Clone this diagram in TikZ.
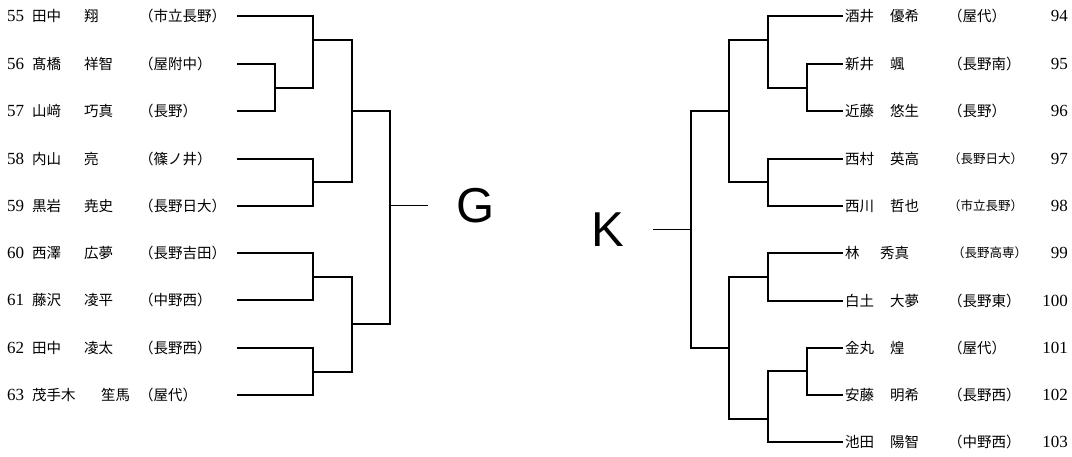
\documentclass[tikz,border=0pt]{standalone}
\usepackage{fontspec}
\setmainfont{Liberation Serif}
\newfontfamily\jp{Noto Sans CJK JP}
\newfontfamily\groupfont{Liberation Sans}
\tikzset{
  jtext/.style={anchor=west, inner sep=0pt, font=\jp\fontsize{14.5}{16}\selectfont},
  numtext/.style={inner sep=0pt, font=\fontsize{17}{18}\selectfont},
  bline/.style={line width=1.6pt},
}

\begin{document}
\begin{tikzpicture}[x=1pt, y=-1pt]
\useasboundingbox (0,0) rectangle (1072,457);
% left block
\foreach \n/\y/\sur/\giv/\gx/\sch in {55/16/田中/翔/84/市立長野, 56/64/髙橋/祥智/84/屋附中,
  57/111/山﨑/巧真/84/長野, 58/159/内山/亮/84/篠ノ井, 59/206/黒岩/尭史/84/長野日大,
  60/253/西澤/広夢/84/長野吉田, 61/300/藤沢/凌平/84/中野西, 62/348/田中/凌太/84/長野西,
  63/395/茂手木/笙馬/101/屋代}
{
  \node[numtext, anchor=west] (n\n) at (7,\y) {\n};
  \node[jtext] (s\n) at (32,\y) {\sur};
  \node[jtext] (g\n) at (\gx,\y) {\giv};
  \node[jtext] (c\n) at (139,\y) {（\sch）};
  \coordinate (L\n) at (237,\y);
}
% right block
\foreach \n/\y/\sur/\giv/\gx/\sch/\cx/\sz in {94/16/酒井/優希/890/屋代/948/14.5,
  95/64/新井/颯/890/長野南/948/14.5, 96/111/近藤/悠生/890/長野/948/14.5,
  97/159/西村/英高/890/長野日大/948/12.5, 98/206/西川/哲也/890/市立長野/948/12.5,
  99/253/林/秀真/880/長野高専/952/12.5, 100/301/白土/大夢/890/長野東/948/14.5,
  101/348/金丸/煌/890/屋代/948/14.5, 102/395/安藤/明希/890/長野西/948/14.5,
  103/442/池田/陽智/890/中野西/948/14.5}
{
  \coordinate (R\n) at (843,\y);
  \node[jtext] (s\n) at (845,\y) {\sur};
  \node[jtext] (g\n) at (\gx,\y) {\giv};
  \node[jtext, font=\jp\fontsize{\sz}{16}\selectfont] (c\n) at (\cx,\y) {（\sch）};
  \node[numtext, anchor=east] (n\n) at (1068,\y) {\n};
}

% matches, left
\coordinate (a1) at (275,88);
\coordinate (b1) at (313,40);
\coordinate (b2) at (313,182);
\coordinate (b3) at (313,277);
\coordinate (b4) at (313,372);
\coordinate (c1) at (352,111);
\coordinate (c2) at (352,324);
\coordinate (d1) at (390,206);
\coordinate (gE) at (428,206);
\draw[bline] (L56) -| (a1) |- (L57);
\draw[bline] (L55) -| (b1) |- (a1);
\draw[bline] (L58) -| (b2) |- (L59);
\draw[bline] (L60) -| (b3) |- (L61);
\draw[bline] (L62) -| (b4) |- (L63);
\draw[bline] (b1) -| (c1) |- (b2);
\draw[bline] (b3) -| (c2) |- (b4);
\draw[bline] (c1) -| (d1) |- (c2);
\draw[line width=1pt] (d1) -- (gE);
\node[font=\groupfont\fontsize{49}{50}\selectfont, inner sep=0pt] (G) at (476,206) {G};

% matches, right
\coordinate (e1) at (807,88);
\coordinate (e2) at (807,371);
\coordinate (f1) at (768,40);
\coordinate (f2) at (768,182);
\coordinate (f3) at (768,277);
\coordinate (f4) at (768,419);
\coordinate (h1) at (729,111);
\coordinate (h2) at (729,348);
\coordinate (k1) at (691,230);
\coordinate (kE) at (653,230);
\draw[bline] (R95) -| (e1) |- (R96);
\draw[bline] (R101) -| (e2) |- (R102);
\draw[bline] (R94) -| (f1) |- (e1);
\draw[bline] (R97) -| (f2) |- (R98);
\draw[bline] (R99) -| (f3) |- (R100);
\draw[bline] (e2) -| (f4) |- (R103);
\draw[bline] (f1) -| (h1) |- (f2);
\draw[bline] (f3) -| (h2) |- (f4);
\draw[bline] (h1) -| (k1) |- (h2);
\draw[line width=1pt] (k1) -- (kE);
\node[font=\groupfont\fontsize{49}{50}\selectfont, inner sep=0pt] (K) at (608,230) {K};
\end{tikzpicture}
\end{document}
